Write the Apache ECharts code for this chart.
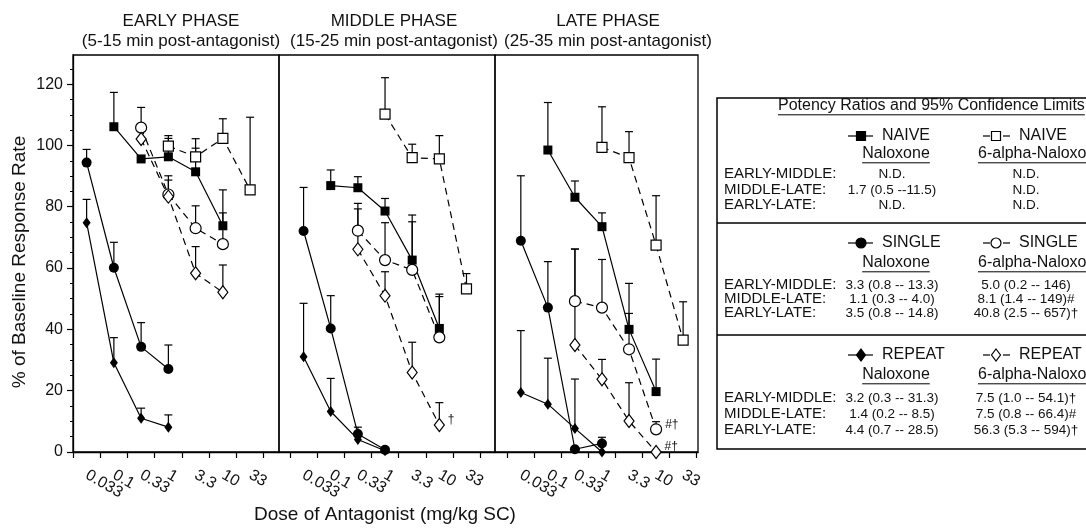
<!DOCTYPE html>
<html><head><meta charset="utf-8">
<script src="https://cdn.jsdelivr.net/npm/echarts@6/dist/echarts.min.js"></script>
<style>html,body{margin:0;padding:0;background:#fff}#c{width:1086px;height:528px}</style>
</head><body><div id="c"></div>
<script>
// ---------------- DATA ----------------
const doses = ['0.033','0.1','0.33','1','3.3','10','33'];
const phaseTitles = ['EARLY PHASE','MIDDLE PHASE','LATE PHASE'];
const phaseSubs = ['(5-15 min post-antagonist)','(15-25 min post-antagonist)','(25-35 min post-antagonist)'];
const yTickLabels = [0,20,40,60,80,100,120];

// mean % baseline per phase [EARLY, MIDDLE, LATE], indexed by dose
const naiveNal = [
  [null,106.1,95.6,96.3,91.4,73.8,null],
  [null,86.9,86.2,78.6,62.6,40.3,null],
  [null,98.5,83.1,73.5,40.0,19.7,null]];
const naiveNalErr = [
  [null,11.2,null,6.0,7.7,11.7,null],
  [null,5.1,3.6,4.1,14.7,11.2,null],
  [null,15.5,5.3,4.5,15.0,10.6,null]];
const naive6a = [
  [null,null,null,99.8,96.3,102.3,85.5],
  [null,null,null,110.2,96.0,95.6,53.2],
  [null,null,null,99.4,96.0,67.5,36.5]];
const naive6aErr = [
  [null,null,null,3.4,5.9,6.4,23.7],
  [null,null,null,11.9,4.4,7.6,5.0],
  [null,null,null,13.2,8.5,16.1,12.5]];
const singleNal = [
  [94.4,60.1,34.3,27.1,null,null,null],
  [72.1,40.3,5.9,0.7,null,null,null],
  [68.9,47.1,0.9,2.8,null,null,null]];
const singleNalErr = [
  [4.3,8.3,7.9,7.8,null,null,null],
  [14.2,10.7,2.2,null,null,null,null],
  [21.2,15.0,null,2.0,null,null,null]];
const single6a = [
  [null,null,105.8,84.0,73.0,67.8,null],
  [null,null,72.2,62.6,59.4,37.4,null],
  [null,null,49.2,47.1,33.5,7.4,null]];
const single6aErr = [
  [null,null,6.6,6.1,7.3,10.2,null],
  [null,null,8.9,12.2,15.7,13.3,null],
  [null,null,17.0,15.7,11.7,2.5,null]];
const repeatNal = [
  [74.8,29.1,11.0,8.1,null,null,null],
  [31.1,13.2,4.1,0.4,null,null,null],
  [19.4,15.6,7.7,0.0,null,null,null]];
const repeatNalErr = [
  [7.6,8.2,3.3,4.0,null,null,null],
  [17.4,10.8,null,null,null,null,null],
  [20.2,15.0,16.1,null,null,null,null]];
const repeat6a = [
  [null,null,102.1,83.3,58.3,52.1,null],
  [null,null,66.1,51.0,25.9,8.8,null],
  [null,null,34.9,23.7,10.1,0.0,null]];
const repeat6aErr = [
  [null,null,null,5.4,8.7,8.9,null],
  [null,null,13.2,7.8,9.9,7.3,null],
  [null,null,31.3,6.5,12.5,null,null]];

// significance marks: [phase, group, dose index, text]
const notes = [[1,'rep6a',5,'†'],[2,'sing6a',5,'#†'],[2,'rep6a',5,'#†']];

// table
const tableTitle = 'Potency Ratios and 95% Confidence Limits';
const tableGroups = ['NAIVE','SINGLE','REPEAT'];
const drugNames = ['Naloxone','6-alpha-Naloxone'];
const rowLabels = ['EARLY-MIDDLE:','MIDDLE-LATE:','EARLY-LATE:'];
const ratiosNal = [
  ['N.D.','1.7 (0.5 --11.5)','N.D.'],
  ['3.3 (0.8 -- 13.3)','1.1 (0.3 -- 4.0)','3.5 (0.8 -- 14.8)'],
  ['3.2 (0.3 -- 31.3)','1.4 (0.2 -- 8.5)','4.4 (0.7 -- 28.5)']];
const ratios6a = [
  ['N.D.','N.D.','N.D.'],
  ['5.0 (0.2 -- 146)','8.1 (1.4 -- 149)#','40.8 (2.5 -- 657)†'],
  ['7.5 (1.0 -- 54.1)†','7.5 (0.8 -- 66.4)#','56.3 (5.3 -- 594)†']];

// ---------------- STYLE / LAYOUT ----------------
const FONT = "'Liberation Sans', Arial, Helvetica, sans-serif";
const groups = [
  {key:'naiveNal', mean:naiveNal, err:naiveNalErr, symbol:'rect', size:9, filled:true},
  {key:'naive6a', mean:naive6a, err:naive6aErr, symbol:'rect', size:10, filled:false},
  {key:'singNal', mean:singleNal, err:singleNalErr, symbol:'circle', size:10, filled:true},
  {key:'sing6a', mean:single6a, err:single6aErr, symbol:'circle', size:11, filled:false},
  {key:'repNal', mean:repeatNal, err:repeatNalErr, symbol:'diamond', size:[8,11], filled:true},
  {key:'rep6a', mean:repeat6a, err:repeat6aErr, symbol:'diamond', size:[10,13], filled:false}
];
const panels = [
  {left:73, width:206, min:0, max:7.56, tc:176},
  {left:279, width:216, min:-0.405, max:7.55, tc:389},
  {left:495, width:203, min:-0.455, max:7.05, tc:603}
];
const TOP = 55, BOTTOM_Y = 452, YMAX = 129.5;

const grids = [], xAxes = [], yAxes = [], series = [], titles = [];
const tickPos = doses.map((d,i)=>i).concat([doses.length]);
// labels split over two coincident axes so none is dropped as "overlapping"
const labelPosA = doses.map((d,i)=>i+0.5).filter((v,i)=>i%2===0);
const labelPosB = doses.map((d,i)=>i+0.5).filter((v,i)=>i%2===1);
const minorTicks = []; for (let v=0; v<=125; v+=5) minorTicks.push(v);
const xLabelStyle = {show:true, rotate:-30, margin:22, color:'#111',
  showMinLabel:true, showMaxLabel:true, hideOverlap:false,
  fontSize:16, fontFamily:FONT, formatter:(v)=>doses[Math.round(v-0.5)]};

panels.forEach((p, pi) => {
  grids.push({left:p.left, top:TOP, width:p.width, height:BOTTOM_Y-TOP, show:true,
    borderColor:'#000', borderWidth:1.3, backgroundColor:'transparent', containLabel:false, outerBoundsMode:'none'});
  xAxes.push({type:'value', gridIndex:pi, min:p.min, max:p.max, position:'bottom',
    axisLine:{show:true, onZero:false, lineStyle:{color:'#000', width:1.3}},
    axisTick:{show:true, customValues:tickPos, length:6, lineStyle:{color:'#000', width:1.2}},
    axisLabel:Object.assign({customValues:labelPosA}, xLabelStyle),
    splitLine:{show:false}});
  yAxes.push({type:'value', gridIndex:pi, min:0, max:YMAX, show: pi===0,
    axisLine:{show:true, lineStyle:{color:'#000', width:1.3}},
    axisTick:{show:true, customValues:yTickLabels, length:6, lineStyle:{color:'#000', width:1.2}},
    axisLabel:{show:true, customValues:yTickLabels, fontSize:16, fontFamily:FONT, color:'#111', margin:10},
    splitLine:{show:false}});
  titles.push({text: phaseTitles[pi] + '\n' + phaseSubs[pi], left:p.tc, top:6, textAlign:'center',
    textStyle:{fontSize:17, fontWeight:'normal', fontFamily:FONT, color:'#111', lineHeight:20}});
});
panels.forEach((p, pi) => {
  xAxes.push({type:'value', gridIndex:pi, min:p.min, max:p.max, position:'bottom', offset:0,
    axisLine:{show:false, onZero:false}, axisTick:{show:false}, splitLine:{show:false},
    axisLabel:Object.assign({customValues:labelPosB}, xLabelStyle)});
});
// minor y ticks for the first panel
yAxes.push({type:'value', gridIndex:0, min:0, max:YMAX, position:'left',
  axisLine:{show:false}, axisLabel:{show:false}, splitLine:{show:false},
  axisTick:{show:true, customValues:minorTicks, length:3, lineStyle:{color:'#000', width:1}}});

panels.forEach((p, pi) => {
  groups.forEach(g => {
    const m = g.mean[pi], e = g.err[pi];
    const errData = [];
    m.forEach((v,i)=>{ if (v!=null && e[i]!=null) errData.push([i+0.5, v, e[i]]); });
    series.push({type:'custom', xAxisIndex:pi, yAxisIndex:pi, z:1, silent:true,
      data: errData,
      renderItem: (params, api) => {
        const a = api.coord([api.value(0), api.value(1)]);
        const b = api.coord([api.value(0), api.value(1)+api.value(2)]);
        const st = {stroke:'#000', lineWidth:1.2};
        return {type:'group', children:[
          {type:'line', shape:{x1:a[0], y1:a[1], x2:b[0], y2:b[1]}, style:st},
          {type:'line', shape:{x1:b[0]-4, y1:b[1], x2:b[0]+4, y2:b[1]}, style:st}]};
      }});
    const data = [];
    m.forEach((v,i)=>{
      if (v==null) return;
      const n = notes.find(q=>q[0]===pi && q[1]===g.key && q[2]===i);
      const item = {value:[i+0.5, v]};
      if (n) item.label = {show:true, formatter:n[3], position:'right', distance:3, offset:[0,-5],
        fontSize:12, fontFamily:FONT, color:'#111'};
      data.push(item);
    });
    series.push({type:'line', xAxisIndex:pi, yAxisIndex:pi, z:3, data,
      symbol:g.symbol, symbolSize:g.size, showSymbol:true,
      lineStyle:{color:'#000', width:1.2, type: g.filled ? 'solid' : [7,5]},
      itemStyle:{color: g.filled ? '#000' : '#fff', borderColor:'#000', borderWidth: g.filled ? 0 : 1.2}});
  });
});

// ---------------- GRAPHIC: axis titles + table ----------------
const ctx = document.createElement('canvas').getContext('2d');
function tw(text, size){ ctx.font = size + 'px ' + FONT; return ctx.measureText(text).width; }
const graphic = [];
const T = (x,y,text,size,align) => graphic.push({type:'text', x, y, silent:true,
  style:{text, fontSize:size, fontFamily:FONT, fill:'#111', align:align||'left', verticalAlign:'middle'}});
const L = (x1,y1,x2,y2,w,dash) => graphic.push({type:'line', silent:true, shape:{x1,y1,x2,y2},
  style:{stroke:'#000', lineWidth:w||1, lineDash:dash||null}});
const UL = (x,y,text,size,align) => { T(x,y,text,size,align); const w = tw(text,size);
  const x0 = align==='center' ? x - w/2 : x; L(x0, y+size*0.55, x0+w, y+size*0.55, 1); };

graphic.push({type:'text', x:20, y:262, rotation:Math.PI/2, silent:true,
  style:{text:'% of Baseline Response Rate', fontSize:19, fontFamily:FONT, fill:'#111', align:'center', verticalAlign:'middle'}});
T(385, 515, 'Dose of Antagonist (mg/kg SC)', 19, 'center');

// table
const TB = {left:717, top:98, right:1100, bottom:449};
graphic.push({type:'rect', silent:true, shape:{x:TB.left, y:TB.top, width:TB.right-TB.left, height:TB.bottom-TB.top},
  style:{fill:'none', stroke:'#000', lineWidth:1.5}});
UL(778, 106, tableTitle, 16, 'left');
const headerY = [136, 243, 355], subY = [154, 263, 375];
const rowsY = [[174,190,205],[285,299,313],[398,414,430]];
const dividers = [223, 335];
dividers.forEach(y => L(TB.left, y, TB.right, y, 1.5));
function marker(kind, filled, cx, cy){
  const st = {fill: filled ? '#000' : '#fff', stroke:'#000', lineWidth:1.2};
  if (kind==='rect') graphic.push({type:'rect', silent:true, shape:{x:cx-4.5, y:cy-4.5, width:9, height:9}, style:st});
  else if (kind==='circle') graphic.push({type:'circle', silent:true, shape:{cx, cy, r:5}, style:st});
  else graphic.push({type:'polygon', silent:true, shape:{points:[[cx,cy-6],[cx+4.5,cy],[cx,cy+6],[cx-4.5,cy]]}, style:st});
}
const symKinds = ['rect','circle','diamond'];
tableGroups.forEach((gname, gi) => {
  const hy = headerY[gi];
  L(848, hy, 873, hy, 1.2); marker(symKinds[gi], true, 861, hy);
  T(882, hy, gname, 16);
  L(983, hy, 990, hy, 1.2); L(1003, hy, 1010, hy, 1.2); marker(symKinds[gi], false, 996, hy);
  T(1019, hy, gname, 16);
  UL(896, subY[gi], drugNames[0], 16, 'center');
  UL(978, subY[gi], drugNames[1], 16, 'left');
  rowLabels.forEach((rl, ri) => {
    const y = rowsY[gi][ri];
    T(724, y, rl, 15);
    T(892, y, ratiosNal[gi][ri], 13.5, 'center');
    T(1026, y, ratios6a[gi][ri], 13.5, 'center');
  });
});

const chart = echarts.init(document.getElementById('c'), null, {renderer:'canvas'});
chart.setOption({animation:false, backgroundColor:'#fff', title:titles, grid:grids,
  xAxis:xAxes, yAxis:yAxes, series, graphic});
</script></body></html>
